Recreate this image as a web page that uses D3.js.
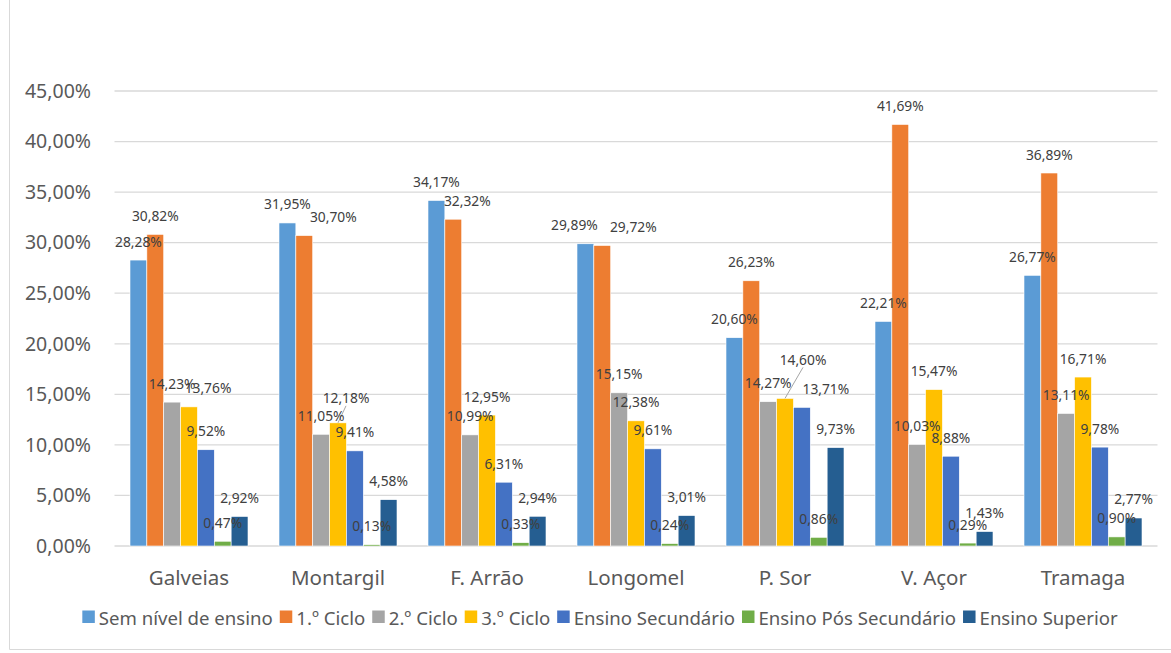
<!DOCTYPE html>
<html>
<head>
<meta charset="utf-8">
<script src="https://cdn.jsdelivr.net/npm/d3@7"></script>
<style>
  html, body { margin: 0; padding: 0; background: #fff; }
  svg { display: block; }
</style>
</head>
<body>
<svg id="chart" width="1171" height="653"></svg>
<script>
const categories = ["Galveias", "Montargil", "F. Arrão", "Longomel", "P. Sor", "V. Açor", "Tramaga"];
const seriesNames = ["Sem nível de ensino", "1.º Ciclo", "2.º Ciclo", "3.º Ciclo", "Ensino Secundário", "Ensino Pós Secundário", "Ensino Superior"];
const semNivel   = [28.28, 31.95, 34.17, 29.89, 20.60, 22.21, 26.77];
const ciclo1     = [30.82, 30.70, 32.32, 29.72, 26.23, 41.69, 36.89];
const ciclo2     = [14.23, 11.05, 10.99, 15.15, 14.27, 10.03, 13.11];
const ciclo3     = [13.76, 12.18, 12.95, 12.38, 14.60, 15.47, 16.71];
const secundario = [9.52, 9.41, 6.31, 9.61, 13.71, 8.88, 9.78];
const posSec     = [0.47, 0.13, 0.33, 0.24, 0.86, 0.29, 0.90];
const superior   = [2.92, 4.58, 2.94, 3.01, 9.73, 1.43, 2.77];
const yTicks = [0, 5, 10, 15, 20, 25, 30, 35, 40, 45];

const seriesValues = [semNivel, ciclo1, ciclo2, ciclo3, secundario, posSec, superior];
const colors = ["#5B9BD5", "#ED7D31", "#A5A5A5", "#FFC000", "#4472C4", "#70AD47", "#255E91"];

// labels that were dragged away from their default spot in the reference ("group-series")
const movedLabels = {
  "0-3": {dx: 19, dy: 0},
  "1-1": {dx: 29, dy: 0},
  "1-3": {dx: 8, dy: -6, leader: true},
  "2-1": {dx: 14, dy: 0},
  "3-0": {dx: -11, dy: 0},
  "3-1": {dx: 31, dy: 0},
  "4-3": {dx: 18, dy: -20, leader: true},
  "4-4": {dx: 24, dy: 0}
};

const fmt = v => d3.format(".2f")(v).replace(".", ",") + "%";

const svg = d3.select("#chart");
const plotLeft = 114.5, plotRight = 1157.5, plotTop = 91, plotBottom = 546;

// chart border (left and bottom edges visible in the reference)
svg.append("path").attr("d", "M9.5,0 V649.5 H1171")
  .attr("fill", "none").attr("stroke", "#d9d9d9").attr("stroke-width", 1);

const y = d3.scaleLinear().domain([0, 45]).range([plotBottom, plotTop]);
const x0 = d3.scaleBand().domain(categories).range([plotLeft, plotRight]).paddingInner(31/149).paddingOuter(15.5/149);
const x1 = d3.scaleBand().domain(seriesNames).range([0, x0.bandwidth()]);

// gridlines
svg.append("g").selectAll("line").data(yTicks).join("line")
  .attr("x1", plotLeft).attr("x2", plotRight)
  .attr("y1", d => y(d)).attr("y2", d => y(d))
  .attr("stroke", "#d9d9d9").attr("stroke-width", 1.3);

// y axis labels
const yAxis = d3.axisLeft(y).tickValues(yTicks).tickSize(0).tickPadding(0)
  .tickFormat(d => d3.format(".2f")(d).replace(".", ",") + "%");
const gy = svg.append("g").attr("transform", `translate(91,0)`).call(yAxis);
gy.select(".domain").remove();
gy.selectAll("text").attr("font-family", "Noto Sans, sans-serif").attr("font-size", 19.5)
  .attr("fill", "#595959");

// x axis labels
const xAxis = d3.axisBottom(x0).tickSize(0).tickPadding(0);
const gx = svg.append("g").attr("transform", `translate(0,${plotBottom + 24})`).call(xAxis);
gx.select(".domain").remove();
gx.selectAll("text").attr("font-family", "Noto Sans, sans-serif").attr("font-size", 20.5)
  .attr("fill", "#595959");

// bars
const rows = [];
categories.forEach((c, ci) => {
  seriesNames.forEach((s, si) => rows.push({c, ci, s, si, v: seriesValues[si][ci]}));
});

svg.append("g").selectAll("rect").data(rows).join("rect")
  .attr("x", d => x0(d.c) + x1(d.s))
  .attr("y", d => y(d.v))
  .attr("width", x1.bandwidth())
  .attr("height", d => y(0) - y(d.v))
  .attr("fill", d => colors[d.si])
  .attr("stroke", "#ffffff").attr("stroke-width", 0.6);

// leader lines
const lg = svg.append("g");
rows.forEach(d => {
  const m = movedLabels[d.ci + "-" + d.si];
  if (!m || !m.leader) return;
  const bx = x0(d.c) + x1(d.s) + x1.bandwidth() / 2;
  const by = y(d.v);
  lg.append("line")
    .attr("x1", bx).attr("y1", by)
    .attr("x2", bx + m.dx).attr("y2", by - 19 + m.dy + 8)
    .attr("stroke", "#a6a6a6").attr("stroke-width", 1);
});

// data labels
svg.append("g").selectAll("text").data(rows).join("text")
  .attr("x", d => {
    const m = movedLabels[d.ci + "-" + d.si];
    return x0(d.c) + x1(d.s) + x1.bandwidth() / 2 + (m ? m.dx : 0);
  })
  .attr("y", d => {
    const m = movedLabels[d.ci + "-" + d.si];
    return y(d.v) - 19 + (m ? m.dy : 0);
  })
  .attr("text-anchor", "middle").attr("dominant-baseline", "central")
  .attr("font-family", "Noto Sans, sans-serif").attr("font-size", 13.8)
  .attr("fill", "#404040")
  .text(d => fmt(d.v));

// legend
const legend = svg.append("g");
let lx = 0;
seriesNames.forEach((s, i) => {
  const g = legend.append("g");
  g.append("rect").attr("x", 0).attr("y", -6.5).attr("width", 12.5).attr("height", 12.5).attr("fill", colors[i]);
  const t = g.append("text").attr("x", 16.5).attr("y", 0).attr("dominant-baseline", "central")
    .attr("font-family", "Noto Sans, sans-serif").attr("font-size", 18.6).attr("fill", "#595959").text(s);
  const w = 16.5 + t.node().getComputedTextLength();
  g.attr("transform", `translate(${lx},0)`);
  lx += w + 7;
});
const totalW = lx - 7;
legend.attr("transform", `translate(${600 - totalW / 2},617)`);
</script>
</body>
</html>
